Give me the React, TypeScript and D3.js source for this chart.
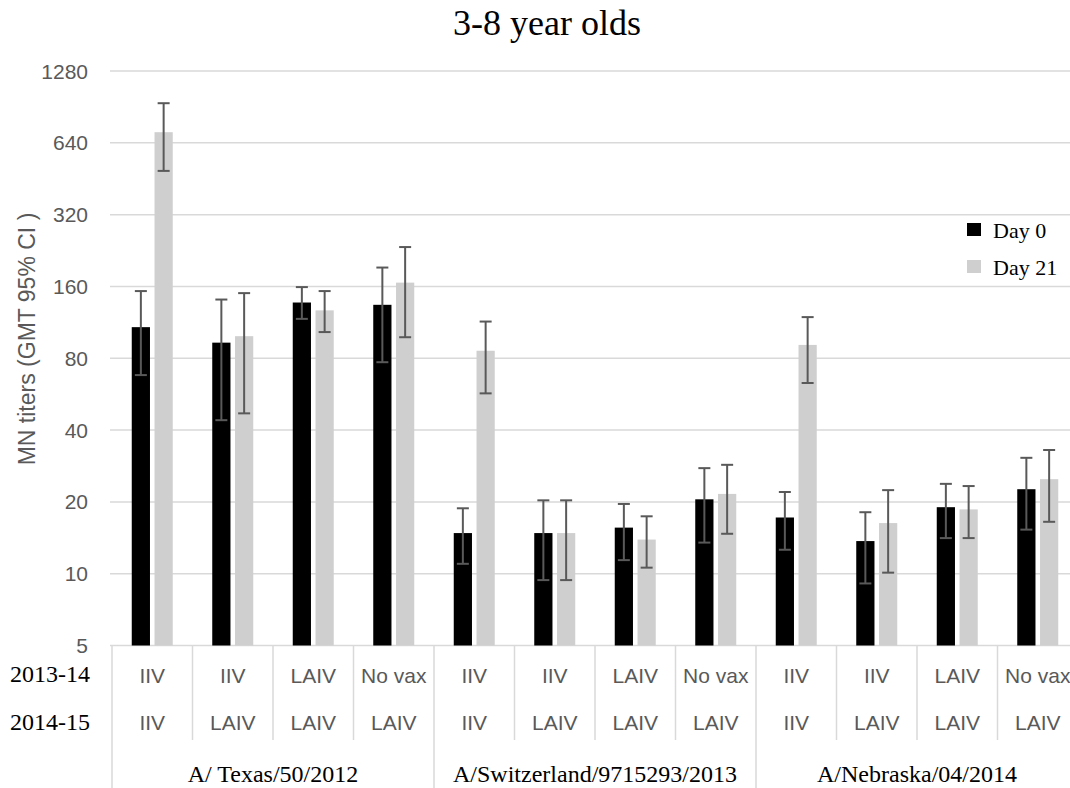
import React, { useEffect, useRef } from "react";
import * as d3 from "d3";

// chart values
const groups = ["A/ Texas/50/2012", "A/Switzerland/9715293/2013", "A/Nebraska/04/2014"];
const season1 = ["IIV", "IIV", "LAIV", "No vax", "IIV", "IIV", "LAIV", "No vax", "IIV", "IIV", "LAIV", "No vax"];
const season2 = ["IIV", "LAIV", "LAIV", "LAIV", "IIV", "LAIV", "LAIV", "LAIV", "IIV", "LAIV", "LAIV", "LAIV"];
const rowLabels = ["2013-14", "2014-15"];

const day0 = [108, 93, 137, 134, 14.8, 14.8, 15.6, 20.5, 17.2, 13.7, 19.0, 22.6];
const day0Lo = [68, 44, 117, 77, 11, 9.4, 11.4, 13.5, 12.6, 9.1, 14.1, 15.3];
const day0Hi = [153, 141, 159, 192, 18.8, 20.3, 19.6, 27.7, 22.0, 18.1, 23.8, 30.6];

const day21 = [709, 99, 127, 166, 86, 14.8, 13.9, 21.6, 91, 16.3, 18.6, 24.9];
const day21Lo = [488, 47, 103, 98, 57, 9.4, 10.6, 14.7, 63, 10.1, 14.1, 16.5];
const day21Hi = [938, 150, 153, 234, 114, 20.3, 17.4, 28.6, 119, 22.4, 23.3, 33];

const yTicks = [5, 10, 20, 40, 80, 160, 320, 640, 1280];
const seriesNames = ["Day 0", "Day 21"];
const seriesColors = ["#000000", "#cfcfcf"];

export default function App() {
  const ref = useRef<SVGSVGElement>(null);

  useEffect(() => {
    const svg = d3.select(ref.current);
    svg.selectAll("*").remove();

    const W = 1070, H = 788;
    const left = 112, step = 80.5;
    const top = 71, bottom = 645.5;
    const serif = "'Liberation Serif', 'Times New Roman', serif";
    const sans = "'Liberation Sans', Arial, sans-serif";

    const idx = d3.range(season1.length);
    const x = d3.scaleBand<number>().domain(idx).range([left, left + step * idx.length]);
    const xs = d3.scaleBand<number>().domain([0, 1]).range([19.75, 60.75]).paddingInner(0.2);
    const y = d3.scaleLog().base(2).domain([5, 1280]).range([bottom, top]);

    // title
    svg.append("text").attr("x", 547).attr("y", 35).attr("text-anchor", "middle")
      .style("font-family", serif).style("font-size", "36px").attr("fill", "#000")
      .text("3-8 year olds");

    // gridlines
    svg.append("g").selectAll("line").data(yTicks).join("line")
      .attr("x1", 110).attr("x2", W)
      .attr("y1", d => y(d)).attr("y2", d => y(d))
      .attr("stroke", "#d9d9d9").attr("stroke-width", 1.5);

    // y tick labels
    svg.append("g").selectAll("text").data(yTicks).join("text")
      .attr("x", 88).attr("y", d => y(d)).attr("dy", "0.36em")
      .attr("text-anchor", "end").attr("fill", "#595959")
      .style("font-family", sans).style("font-size", "21px")
      .text(d => d);

    // y title
    svg.append("text")
      .attr("transform", "translate(35,339) rotate(-90)")
      .attr("text-anchor", "middle").attr("fill", "#595959")
      .style("font-family", sans).style("font-size", "23px")
      .text("MN titers (GMT 95% CI )");

    // bars
    const series = [
      { v: day0, lo: day0Lo, hi: day0Hi },
      { v: day21, lo: day21Lo, hi: day21Hi },
    ];
    series.forEach((s, si) => {
      const g = svg.append("g");
      g.selectAll("rect").data(idx).join("rect")
        .attr("x", i => (x(i) as number) + (xs(si) as number))
        .attr("width", xs.bandwidth())
        .attr("y", i => y(s.v[i]))
        .attr("height", i => bottom - y(s.v[i]))
        .attr("fill", seriesColors[si]);
    });

    // error bars
    series.forEach((s, si) => {
      const g = svg.append("g").attr("stroke", "#595959").attr("stroke-width", 2);
      const cx = (i: number) => (x(i) as number) + (xs(si) as number) + xs.bandwidth() / 2;
      g.selectAll(".v").data(idx).join("line").attr("class", "v")
        .attr("x1", cx).attr("x2", cx)
        .attr("y1", i => y(s.lo[i])).attr("y2", i => y(s.hi[i]));
      g.selectAll(".t").data(idx).join("line").attr("class", "t")
        .attr("x1", i => cx(i) - 6).attr("x2", i => cx(i) + 6)
        .attr("y1", i => y(s.hi[i])).attr("y2", i => y(s.hi[i]));
      g.selectAll(".b").data(idx).join("line").attr("class", "b")
        .attr("x1", i => cx(i) - 6).attr("x2", i => cx(i) + 6)
        .attr("y1", i => y(s.lo[i])).attr("y2", i => y(s.lo[i]));
    });

    // category axis: dividers
    const axis = svg.append("g").attr("stroke", "#d9d9d9").attr("stroke-width", 1.5);
    axis.selectAll(".div").data(d3.range(idx.length + 1)).join("line").attr("class", "div")
      .attr("x1", i => left + step * i).attr("x2", i => left + step * i)
      .attr("y1", bottom).attr("y2", i => (i % 4 === 0 ? H : 740));

    // category labels
    [season1, season2].forEach((labels, r) => {
      svg.append("g").selectAll("text").data(idx).join("text")
        .attr("x", i => (x(i) as number) + x.bandwidth() / 2)
        .attr("y", r === 0 ? 683 : 730)
        .attr("text-anchor", "middle").attr("fill", "#595959")
        .style("font-family", sans).style("font-size", "21px")
        .text(i => labels[i]);
    });

    // row labels
    svg.append("g").selectAll("text").data(rowLabels).join("text")
      .attr("x", 90).attr("y", (d, i) => (i === 0 ? 682 : 730))
      .attr("text-anchor", "end").attr("fill", "#000")
      .style("font-family", serif).style("font-size", "24px")
      .text(d => d);

    // group labels
    svg.append("g").selectAll("text").data(groups).join("text")
      .attr("x", (d, i) => left + step * (i * 4 + 2))
      .attr("y", 782)
      .attr("text-anchor", "middle").attr("fill", "#000")
      .style("font-family", serif).style("font-size", "24px")
      .text(d => d);

    // legend
    const lg = svg.append("g").selectAll("g").data(seriesNames).join("g")
      .attr("transform", (d, i) => `translate(967,${223 + i * 37})`);
    lg.append("rect").attr("width", 14).attr("height", 13)
      .attr("fill", (d, i) => seriesColors[i]);
    lg.append("text").attr("x", 26).attr("y", 15)
      .attr("fill", "#000").style("font-family", serif).style("font-size", "22px")
      .text(d => d);
  }, []);

  return (
    <svg ref={ref} width={1070} height={788}
      style={{ position: "absolute", left: 0, top: 0, background: "#fff" }} />
  );
}
